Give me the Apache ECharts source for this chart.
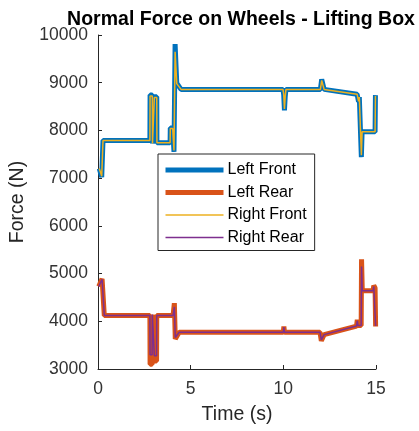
<!DOCTYPE html>
<html>
<head>
<meta charset="utf-8">
<script src="https://cdn.jsdelivr.net/npm/echarts@6/dist/echarts.min.js"></script>
<style>
  html, body { margin: 0; padding: 0; background: #fff; }
  #chart { width: 419px; height: 431px; }
</style>
</head>
<body>
<div id="chart"></div>
<script>
// time (s) and force (N), front wheels
const timeFront = [0.07, 0.15, 0.2, 0.25, 0.27, 2.8, 2.81, 2.93, 2.94, 3.03, 3.04, 3.17, 3.18,
                   3.89, 3.9, 4.03, 4.1, 4.16, 4.25, 4.48, 9.98, 10.02, 10.06, 10.1, 10.14,
                   12.0, 12.07, 12.2, 13.98, 14.03, 14.06, 14.1, 14.2, 14.21, 14.24, 14.25, 14.95, 14.97];
const leftFront  = [7200, 7180, 7020, 7020, 7790, 7790, 8740, 8740, 7725, 7725, 8705, 8705, 7740,
                    7740, 8050, 8050, 7550, 9810, 8990, 8860, 8860, 8750, 8420, 8700, 8860,
                    8860, 9070, 8860, 8760, 8720, 8600, 8700, 8700, 7440, 7440, 7970, 7970, 8740];
const rightFront = [7200, 7180, 7040, 7040, 7790, 7790, 8720, 8720, 7725, 7725, 8690, 8690, 7740,
                    7740, 8040, 8040, 7580, 9650, 8980, 8860, 8860, 8760, 8450, 8700, 8860,
                    8860, 9050, 8860, 8760, 8720, 8610, 8700, 8700, 7480, 7480, 7970, 7970, 8720];

// time (s) and force (N), rear wheels
const timeRear = [0.04, 0.22, 0.3, 0.34, 2.8, 2.81, 2.92, 2.93, 3.03, 3.04, 3.16, 3.17,
                  4.05, 4.12, 4.17, 4.38, 10.0, 10.03, 10.06, 11.98, 12.05, 12.2,
                  13.95, 13.99, 14.03, 14.2, 14.22, 14.26, 14.84, 14.88, 14.95, 14.98];
const leftRear  = [4730, 4890, 4890, 4120, 4120, 3100, 3100, 4140, 4140, 3170, 3170, 4120,
                   4120, 4380, 3630, 3770, 3770, 3890, 3770, 3770, 3590, 3720,
                   3900, 4030, 3910, 3910, 5300, 4640, 4640, 4750, 4700, 3890];
const rightRear = [4730, 4880, 4880, 4120, 4120, 3300, 3300, 4140, 4140, 3280, 3280, 4120,
                   4120, 4300, 3660, 3770, 3770, 3880, 3770, 3770, 3610, 3720,
                   3900, 4010, 3910, 3910, 5150, 4640, 4640, 4730, 4700, 3900];

const seriesNames = ['Left Front', 'Left Rear', 'Right Front', 'Right Rear'];
const seriesColors = ['#0072BD', '#D95319', '#EDB120', '#7E2F8E'];
const seriesWidths = [5, 5, 1.5, 1.5];
const yTicks = { min: 3000, max: 10000, step: 1000 };
const xTicks = { min: 0, max: 15, step: 5 };

function pairs(t, v) {
    return t.map((x, i) => [x, v[i]]);
}
const seriesData = [
    pairs(timeFront, leftFront),
    pairs(timeRear, leftRear),
    pairs(timeFront, rightFront),
    pairs(timeRear, rightRear)
];

const font = 'Liberation Sans, Arial, Helvetica, sans-serif';
const axisColor = '#262626';

const chart = echarts.init(document.getElementById('chart'));

const option = {
    backgroundColor: '#fff',
    animation: false,
    title: {
        text: 'Normal Force on Wheels - Lifting Box',
        left: 236,
        top: 5,
        textAlign: 'center',
        textStyle: { fontFamily: font, fontSize: 19.5, fontWeight: 'bold', color: '#000' }
    },
    legend: {
        data: seriesNames,
        orient: 'vertical',
        left: 158,
        top: 154,
        padding: [8, 8, 5, 5],
        itemWidth: 58,
        itemHeight: 14,
        itemGap: 6.5,
        backgroundColor: '#fff',
        borderColor: '#262626',
        borderWidth: 1,
        borderRadius: 0,
        itemStyle: { opacity: 0 },
        lineStyle: { width: 'inherit' },
        textStyle: { fontFamily: font, fontSize: 16, color: '#000', padding: [0, 0, 0, -1] }
    },
    grid: { left: 97, right: 43, top: 35, bottom: 62 },
    xAxis: {
        type: 'value',
        min: xTicks.min, max: xTicks.max, interval: xTicks.step,
        name: 'Time (s)',
        nameLocation: 'middle',
        nameGap: 36,
        nameTextStyle: { fontFamily: font, fontSize: 19.5, color: axisColor },
        axisLine: { lineStyle: { color: axisColor, width: 1 } },
        axisTick: { inside: true, length: 4, lineStyle: { color: axisColor } },
        axisLabel: { fontFamily: font, fontSize: 17.5, color: '#333', margin: 11 },
        splitLine: { show: false }
    },
    yAxis: {
        type: 'value',
        min: yTicks.min, max: yTicks.max, interval: yTicks.step,
        name: 'Force (N)',
        nameLocation: 'middle',
        nameGap: 70,
        nameTextStyle: { fontFamily: font, fontSize: 19.5, color: axisColor },
        axisLine: { show: true, lineStyle: { color: axisColor, width: 1 } },
        axisTick: { show: true, inside: true, length: 4, lineStyle: { color: axisColor } },
        axisLabel: {
            fontFamily: font, fontSize: 17.5, color: '#333', margin: 10,
            formatter: v => String(v)
        },
        splitLine: { show: false }
    },
    series: seriesNames.map((name, i) => ({
        name: name,
        type: 'line',
        data: seriesData[i],
        showSymbol: false,
        symbol: 'none',
        color: seriesColors[i],
        lineStyle: { color: seriesColors[i], width: seriesWidths[i] }
    }))
};

chart.setOption(option);
</script>
</body>
</html>
